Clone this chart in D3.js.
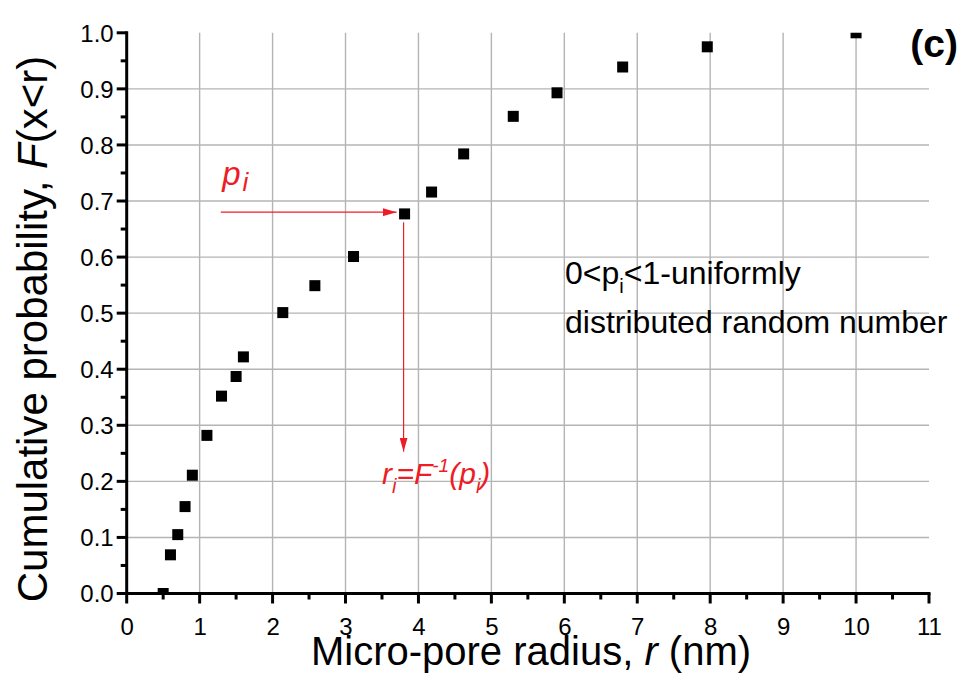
<!DOCTYPE html>
<html>
<head>
<meta charset="utf-8">
<script src="https://cdn.jsdelivr.net/npm/d3@7"></script>
<style>
  html, body { margin: 0; padding: 0; background: #fff; }
  svg { display: block; }
  text { font-family: "Liberation Sans", Arial, sans-serif; }
</style>
</head>
<body>
<svg id="chart" width="966" height="694"></svg>
<script>
// Cumulative distribution of micro-pore radius
const radius = [0.50, 0.60, 0.70, 0.80, 0.90, 1.10, 1.30, 1.50, 1.60, 2.14, 2.58, 3.11, 3.81, 4.18, 4.62, 5.30, 5.90, 6.80, 7.96, 10.0];
const cumProb = [0.000, 0.069, 0.105, 0.155, 0.211, 0.282, 0.352, 0.387, 0.422, 0.501, 0.549, 0.601, 0.677, 0.716, 0.784, 0.851, 0.893, 0.939, 0.975, 1.000];
const xTicks = [0, 1, 2, 3, 4, 5, 6, 7, 8, 9, 10, 11];
const yTicks = [0.0, 0.1, 0.2, 0.3, 0.4, 0.5, 0.6, 0.7, 0.8, 0.9, 1.0];

// Inverse-transform sampling illustration (data units)
const sampleP = 0.680;         // p_i level
const sampleR = 3.81;          // r_i = F^-1(p_i)

const svg = d3.select("#chart");
const W = 966, H = 694;
svg.append("rect").attr("width", W).attr("height", H).attr("fill", "#fff");

const x = d3.scaleLinear().domain([0, 11]).range([126.7, 929]);
const y = d3.scaleLinear().domain([0, 1]).range([593.5, 32.8]);

const red = "#ee1c25";
const gridColor = "#b4b4b4";

// grid
const grid = svg.append("g");
grid.selectAll("line.gx").data(xTicks.filter(t => t > 0 && t < 11)).enter()
  .append("line")
  .attr("x1", d => x(d)).attr("x2", d => x(d))
  .attr("y1", y(0)).attr("y2", y(1))
  .attr("stroke", gridColor).attr("stroke-width", 1.4);
grid.selectAll("line.gy").data(yTicks.filter(t => t > 0 && t < 1)).enter()
  .append("line")
  .attr("x1", x(0)).attr("x2", x(11))
  .attr("y1", d => y(d)).attr("y2", d => y(d))
  .attr("stroke", gridColor).attr("stroke-width", 1.4);

// markers, clipped to the plotting area
svg.append("clipPath").attr("id", "plotClip")
  .append("rect")
  .attr("x", x(0)).attr("y", y(1))
  .attr("width", x(11) - x(0)).attr("height", y(0) - y(1));

const ms = 11;
svg.append("g").attr("clip-path", "url(#plotClip)")
  .selectAll("rect").data(radius.map((r, i) => [r, cumProb[i]])).enter()
  .append("rect")
  .attr("x", d => x(d[0]) - ms / 2)
  .attr("y", d => y(d[1]) - ms / 2)
  .attr("width", ms).attr("height", ms)
  .attr("fill", "#000");

// arrows
const defs = svg.append("defs");
defs.append("marker")
  .attr("id", "arrowHead")
  .attr("viewBox", "0 0 14 8")
  .attr("refX", 14).attr("refY", 4)
  .attr("markerWidth", 14).attr("markerHeight", 8)
  .attr("markerUnits", "userSpaceOnUse")
  .attr("orient", "auto")
  .append("path").attr("d", "M0,0 L14,4 L0,8 Z").attr("fill", red);

svg.append("line")
  .attr("x1", x(1.29)).attr("x2", x(3.70))
  .attr("y1", y(sampleP)).attr("y2", y(sampleP))
  .attr("stroke", red).attr("stroke-width", 1.2)
  .attr("marker-end", "url(#arrowHead)");

svg.append("line")
  .attr("x1", x(sampleR) - 1).attr("x2", x(sampleR) - 1)
  .attr("y1", y(0.662)).attr("y2", y(0.253))
  .attr("stroke", red).attr("stroke-width", 1.2)
  .attr("marker-end", "url(#arrowHead)");

// axes
const axisW = 3;
const xAxis = d3.axisBottom(x).tickValues(xTicks).tickFormat(d3.format("d")).tickSize(0);
const gx = svg.append("g").attr("transform", `translate(0,${y(0)})`).call(xAxis);
gx.select(".domain").remove();
gx.attr("font-size", 24).attr("font-family", null);
gx.selectAll("text").attr("fill", "#000").attr("dy", null).attr("y", 41);

const yAxis = d3.axisLeft(y).tickValues(yTicks).tickFormat(d3.format(".1f")).tickSize(0);
const gy = svg.append("g").attr("transform", `translate(${x(0)},0)`).call(yAxis);
gy.select(".domain").remove();
gy.attr("font-size", 24).attr("font-family", null);
gy.selectAll("text").attr("fill", "#000").attr("x", -13).attr("dy", "0.35em");

// axis lines
svg.append("line").attr("x1", x(0) - axisW / 2).attr("x2", x(11) + axisW / 2)
  .attr("y1", y(0)).attr("y2", y(0)).attr("stroke", "#000").attr("stroke-width", axisW);
svg.append("line").attr("x1", x(0)).attr("x2", x(0))
  .attr("y1", y(0) + axisW / 2).attr("y2", y(1) - axisW / 2).attr("stroke", "#000").attr("stroke-width", axisW);

// major and minor tick marks
const xMinor = d3.range(0.5, 11, 1);
const yMinor = d3.range(0.05, 1, 0.1);
svg.append("g").selectAll("line").data(xTicks).enter().append("line")
  .attr("x1", d => x(d)).attr("x2", d => x(d))
  .attr("y1", y(0)).attr("y2", y(0) + 10)
  .attr("stroke", "#000").attr("stroke-width", axisW);
svg.append("g").selectAll("line").data(xMinor).enter().append("line")
  .attr("x1", d => x(d)).attr("x2", d => x(d))
  .attr("y1", y(0)).attr("y2", y(0) + 6)
  .attr("stroke", "#000").attr("stroke-width", axisW);
svg.append("g").selectAll("line").data(yTicks).enter().append("line")
  .attr("x1", x(0) - 10).attr("x2", x(0))
  .attr("y1", d => y(d)).attr("y2", d => y(d))
  .attr("stroke", "#000").attr("stroke-width", axisW);
svg.append("g").selectAll("line").data(yMinor).enter().append("line")
  .attr("x1", x(0) - 6).attr("x2", x(0))
  .attr("y1", d => y(d)).attr("y2", d => y(d))
  .attr("stroke", "#000").attr("stroke-width", axisW);

// axis titles
const xt = svg.append("text")
  .attr("x", 531).attr("y", 665)
  .attr("text-anchor", "middle").attr("font-size", 40).attr("fill", "#000");
xt.append("tspan").text("Micro-pore radius, ");
xt.append("tspan").attr("font-style", "italic").text("r");
xt.append("tspan").text(" (nm)");

const yt = svg.append("text")
  .attr("transform", "translate(47,329) rotate(-90)")
  .attr("text-anchor", "middle").attr("font-size", 42).attr("fill", "#000");
yt.append("tspan").text("Cumulative probability, ");
yt.append("tspan").attr("font-style", "italic").text("F");
yt.append("tspan").text("(x<r)");

// panel tag
svg.append("text").attr("x", 958).attr("y", 57)
  .attr("text-anchor", "end").attr("font-size", 39).attr("font-weight", "bold")
  .attr("fill", "#000").text("(c)");

// red labels
const pl = svg.append("text").attr("x", x(1.31)).attr("y", 185)
  .attr("font-size", 33).attr("font-style", "italic").attr("fill", red);
pl.append("tspan").text("p");
pl.append("tspan").attr("font-size", 26).attr("dx", 2).attr("dy", 6).text("i");

const rl = svg.append("text").attr("x", x(3.50)).attr("y", 484)
  .attr("font-size", 30).attr("font-style", "italic").attr("fill", red);
rl.append("tspan").text("r");
rl.append("tspan").attr("font-size", 20).attr("dy", 9).text("i");
rl.append("tspan").attr("dy", -9).text("=F");
rl.append("tspan").attr("font-size", 19).attr("dy", -12).text("-1");
rl.append("tspan").attr("dy", 12).text("(p");
rl.append("tspan").attr("font-size", 20).attr("dy", 9).text("i");
rl.append("tspan").attr("dy", -9).text(")");

// explanatory note
const n1 = svg.append("text").attr("x", x(6.01)).attr("y", 284)
  .attr("font-size", 32).attr("fill", "#000");
n1.append("tspan").text("0<p");
n1.append("tspan").attr("font-size", 20).attr("dy", 9).text("i");
n1.append("tspan").attr("dy", -9).text("<1-uniformly");
svg.append("text").attr("x", x(6.01)).attr("y", 333)
  .attr("font-size", 32).attr("fill", "#000").text("distributed random number");
</script>
</body>
</html>
